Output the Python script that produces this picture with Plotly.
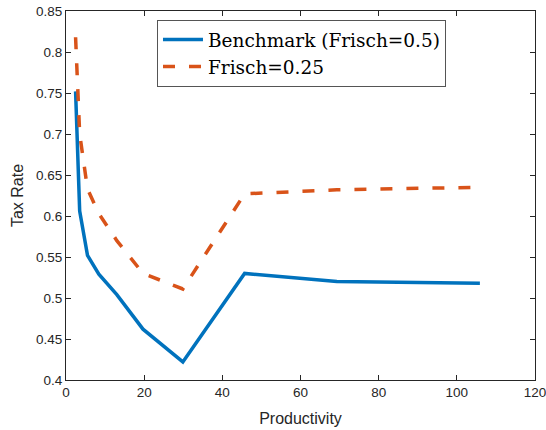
import plotly.graph_objects as go

productivity = [2.45, 3.5, 5.5, 8.4, 13.0, 19.7, 29.9, 45.7, 69.3, 105.9]
benchmark = [0.752, 0.606, 0.552, 0.529, 0.504, 0.462, 0.422, 0.530, 0.520, 0.518]
frisch_025 = [0.818, 0.700, 0.633, 0.603, 0.570, 0.530, 0.511, 0.627, 0.632, 0.635]

x_ticks = [0, 20, 40, 60, 80, 100, 120]
y_ticks = [0.4, 0.45, 0.5, 0.55, 0.6, 0.65, 0.7, 0.75, 0.8, 0.85]
y_tick_text = ["0.4", "0.45", "0.5", "0.55", "0.6", "0.65", "0.7", "0.75", "0.8", "0.85"]

names = ["Benchmark (Frisch=0.5)", "Frisch=0.25"]
colors = ["#0072BD", "#D95319"]

fig = go.Figure()
fig.add_trace(go.Scatter(x=productivity, y=benchmark, mode="lines", name=names[0],
                         line=dict(color=colors[0], width=3.5)))
fig.add_trace(go.Scatter(x=productivity, y=frisch_025, mode="lines", name=names[1],
                         line=dict(color=colors[1], width=3.5, dash="12px,14px")))

axis_color = "#262626"
common = dict(showgrid=False, zeroline=False, showline=True, linecolor=axis_color,
              linewidth=1, mirror="ticks", ticks="inside", ticklen=5, tickcolor=axis_color,
              automargin=False, ticklabeloverflow="allow",
              tickfont=dict(family="Liberation Sans, Arial", size=13.5, color=axis_color))

fig.update_xaxes(range=[0, 120], tickvals=x_ticks, title=dict(text="Productivity",
                 font=dict(family="Liberation Sans, Arial", size=16, color=axis_color), standoff=13),
                 **common)
fig.update_yaxes(range=[0.4, 0.85], tickvals=y_ticks, ticktext=y_tick_text,
                 title=dict(text="Tax Rate", font=dict(family="Liberation Sans, Arial", size=16,
                            color=axis_color), standoff=8), **common)

fig.update_layout(
    width=546, height=430,
    margin=dict(l=66, r=11, t=11, b=50),
    paper_bgcolor="white", plot_bgcolor="white",
    showlegend=True,
    legend=dict(x=0.194, y=0.976, xanchor="left", yanchor="top",
                bgcolor="white", bordercolor="#555555", borderwidth=1,
                font=dict(family="DejaVu Serif", size=18.5, color="#000000"),
                tracegroupgap=0, itemwidth=40),
)

fig.write_html("out.html")
